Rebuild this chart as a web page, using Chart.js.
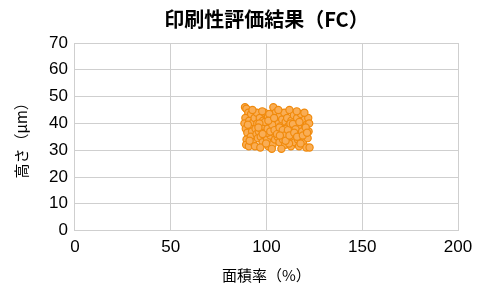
<!DOCTYPE html>
<html>
<head>
    <meta charset="utf-8">
    <title>印刷性評価結果（FC）</title>
    <script src="https://cdn.jsdelivr.net/npm/chart.js"></script>
    <style>
        body { margin: 0; background: #fff; }
    </style>
</head>
<body>
    <canvas id="chart" width="490" height="287"></canvas>

    <script>
        // 面積率(%) の値
        var areaRate = [
            88.8, 89.5, 90.5, 89, 88.5, 89.2, 90, 89.6, 89.4, 90.8, 91, 91.5, 92, 92.5, 91.8, 93, 93.2, 93.8, 94.3, 94.8, 95, 95.5, 92.7, 90.3, 91.2, 94, 95.2,
            96, 96.5, 97, 97.3, 98, 98.2, 98.8, 99, 99.5, 100, 100.3, 100.8, 101, 101.2, 101.8, 102, 102.5, 103, 103.2, 103.6, 103.8, 104, 104.5, 105, 105.2, 96.8, 97.8, 99.8, 102.8, 104.8, 100.5, 101.5,
            105.8, 106, 106.5, 106.8, 107, 107.5, 108, 108.2, 108.6, 109, 109.3, 109.8, 110, 110.4, 110.8, 111, 111.5, 112, 112.3, 112.8, 113, 113.5, 114, 114.3, 114.8, 115, 106.2, 107.8, 111.8, 113.2, 110.2,
            115.5, 116, 116.4, 116.8, 117, 117.5, 118, 118.3, 118.8, 119, 119.5, 120, 120.3, 120.8, 121, 121.5, 121.8, 122, 122.3, 122.5, 115.8, 117.8, 119.8, 116.6,
            97, 98.5, 99.2, 100.6, 102, 103, 104.2, 105.5, 106.8, 108.5, 109.5, 111.2, 112.5, 113.8, 115.2, 117.2, 118.6, 120.5, 96.3, 98, 101, 104, 107, 110, 112, 114.5, 116, 119, 121.2, 95.8
        ];
        // 高さ(μm) の値
        var height = [
            46, 45.5, 44, 42, 40, 38, 36.5, 34, 32, 31.5, 41, 39, 43.5, 37, 35, 33, 40.5, 42, 38, 36, 44, 34.5, 45, 39.5, 33.5, 31.5, 40,
            37, 42, 35, 39.5, 33, 41, 37.5, 44, 36, 39, 34, 42.5, 31.5, 37, 40, 35.5, 38.5, 43, 32, 46, 36.5, 40.5, 34, 38, 42, 31, 44.5, 32.5, 30.5, 44, 36.5, 43.5,
            35, 40, 37, 33, 43, 39, 36, 41.5, 34, 38, 44, 32, 40.5, 36.5, 42, 34.5, 39, 45, 37, 31.5, 41, 35, 38.5, 43, 33, 40, 45, 30.5, 32.5, 36, 38,
            36, 42, 34, 39, 31.5, 37.5, 43.5, 35, 40, 33, 38, 41.5, 36, 31, 39.5, 34.5, 42, 37, 40, 31, 44.5, 32.5, 44, 38.5,
            38, 39, 40.5, 38, 37, 39.5, 37.5, 36, 38.5, 37.5, 35.5, 37.5, 40, 39.8, 37.8, 40.5, 37, 38.5, 40, 36, 41, 42, 35.5, 33.5, 35.5, 36.5, 35, 35.5, 36.5, 38.5
        ];
        var xTicks = [0, 50, 100, 150, 200];
        var yTicks = [0, 10, 20, 30, 40, 50, 60, 70];
        var chartTitle = '印刷性評価結果（FC）';

        var points = areaRate.map((x, i) => ({ x: x, y: height[i] }));

        var gridColor = '#cfcfcf';
        var tickFont = { family: 'Liberation Sans, Arial, sans-serif', size: 17 };
        var jpFont = 'Noto Sans CJK JP, sans-serif';

        // タイトルをプロット領域の中央に描く
        var titlePlugin = {
            id: 'areaTitle',
            afterDraw(chart) {
                var c = chart.ctx;
                var area = chart.chartArea;
                c.save();
                c.font = 'bold 20px ' + jpFont;
                c.fillStyle = '#000';
                c.textAlign = 'center';
                c.textBaseline = 'middle';
                c.fillText(chartTitle, (area.left + area.right) / 2, 19);
                c.restore();
            }
        };

        var ctx = document.getElementById('chart').getContext('2d');
        new Chart(ctx, {
            type: 'scatter',
            data: {
                datasets: [{
                    label: '高さ',
                    data: points,
                    backgroundColor: '#f9ad55',
                    borderColor: '#f08a0c',
                    borderWidth: 1.2,
                    pointRadius: 3.6
                }]
            },
            plugins: [titlePlugin],
            options: {
                responsive: false,
                animation: false,
                layout: { padding: { top: 43, right: 32, bottom: 3, left: 9 } },
                plugins: {
                    legend: { display: false },
                    tooltip: { enabled: false },
                    title: { display: false }
                },
                scales: {
                    x: {
                        type: 'linear',
                        min: 0,
                        max: 200,
                        afterBuildTicks: axis => { axis.ticks = xTicks.map(v => ({ value: v })); },
                        grid: { color: gridColor, drawTicks: false },
                        border: { color: gridColor },
                        ticks: { color: '#000', font: tickFont, padding: 7, maxRotation: 0 },
                        title: {
                            display: true,
                            text: '面積率（%）',
                            color: '#000',
                            font: { family: jpFont, size: 15 },
                            padding: { top: 1, bottom: 0 }
                        }
                    },
                    y: {
                        type: 'linear',
                        min: 0,
                        max: 70,
                        afterBuildTicks: axis => { axis.ticks = yTicks.map(v => ({ value: v })); },
                        grid: { color: gridColor, drawTicks: false },
                        border: { color: gridColor },
                        ticks: { color: '#000', font: tickFont, padding: 7 },
                        title: {
                            display: true,
                            text: '高さ（μm）',
                            color: '#000',
                            font: { family: jpFont, size: 15 },
                            padding: { top: 3, bottom: 12 }
                        }
                    }
                }
            }
        });
    </script>
</body>
</html>
